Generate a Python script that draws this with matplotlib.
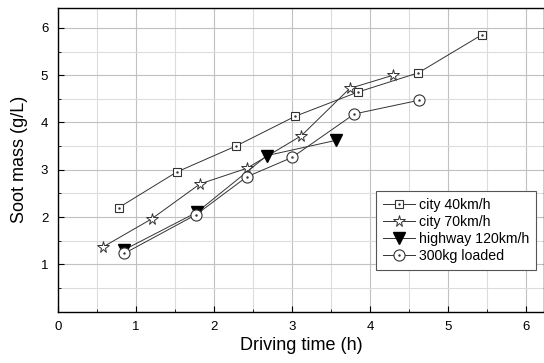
import matplotlib
matplotlib.use("Agg")
import matplotlib.pyplot as plt
from matplotlib.ticker import MultipleLocator

# data
city40_t = [0.78, 1.52, 2.28, 3.04, 3.84, 4.62, 5.43]
city40_m = [2.20, 2.95, 3.50, 4.13, 4.64, 5.05, 5.85]

city70_t = [0.58, 1.20, 1.82, 2.42, 3.12, 3.74, 4.30]
city70_m = [1.37, 1.96, 2.70, 3.03, 3.72, 4.72, 5.00]

highway_t = [0.84, 1.78, 2.68, 3.56]
highway_m = [1.30, 2.10, 3.30, 3.62]

loaded_t = [0.85, 1.77, 2.42, 3.00, 3.80, 4.63]
loaded_m = [1.23, 2.05, 2.85, 3.26, 4.18, 4.47]

plt.rcParams["font.family"] = ["Liberation Sans", "DejaVu Sans"]

fig = plt.figure(figsize=(5.44, 3.63), dpi=100)
ax = fig.add_axes([58 / 544, 51.4 / 363, 1 - 58 / 544, 303.6 / 363])

lw = 0.7
handles = []

l, = ax.plot(city40_t, city40_m, color="#333333", lw=lw, marker="s", ms=6,
             mfc="white", mec="#333333", mew=0.8, zorder=3)
d, = ax.plot(city40_t, city40_m, ls="none", marker=".", ms=1.5, color="#333333", zorder=4)
handles.append((l, d))

l, = ax.plot(city70_t, city70_m, color="#333333", lw=lw, marker="*", ms=8.5,
             mfc="white", mec="#333333", mew=0.7, zorder=3)
handles.append(l)

l, = ax.plot(highway_t, highway_m, color="#333333", lw=lw, marker="v", ms=8.5,
             mfc="black", mec="black", zorder=3)
handles.append(l)

l, = ax.plot(loaded_t, loaded_m, color="#333333", lw=lw, marker="o", ms=8,
             mfc="white", mec="#333333", mew=0.8, zorder=3)
d, = ax.plot(loaded_t, loaded_m, ls="none", marker=".", ms=1.5, color="#333333", zorder=4)
handles.append((l, d))

labels = ["city 40km/h", "city 70km/h", "highway 120km/h", "300kg loaded"]

ax.set_xlim(0, 6.23)
ax.set_ylim(0, 6.42)
ax.xaxis.set_major_locator(MultipleLocator(1))
ax.xaxis.set_minor_locator(MultipleLocator(0.5))
ax.yaxis.set_major_locator(MultipleLocator(1))
ax.yaxis.set_minor_locator(MultipleLocator(0.5))
ax.set_yticks([1, 2, 3, 4, 5, 6])

ax.grid(True, which="major", color="#c0c0c0", lw=0.8)
ax.grid(True, which="minor", color="#dcdcdc", lw=0.8)
ax.set_axisbelow(True)

ax.tick_params(which="both", direction="in", labelsize=9.5, colors="black")
ax.tick_params(which="major", length=4, pad=7)
ax.tick_params(which="minor", length=2.5)
for s in ax.spines.values():
    s.set_linewidth(1.0)

ax.set_xlabel("Driving time (h)", fontsize=13, labelpad=3)
ax.set_ylabel("Soot mass (g/L)", fontsize=13, labelpad=9)

leg = ax.legend(handles, labels, loc="lower right", bbox_to_anchor=(0.984, 0.137),
                borderaxespad=0, fontsize=10.2, numpoints=1, fancybox=False,
                framealpha=1, edgecolor="#555555", handlelength=2.2,
                handletextpad=0.3, labelspacing=0.2, borderpad=0.5)
leg.get_frame().set_linewidth(0.8)

fig.savefig("out.png", dpi=100)
